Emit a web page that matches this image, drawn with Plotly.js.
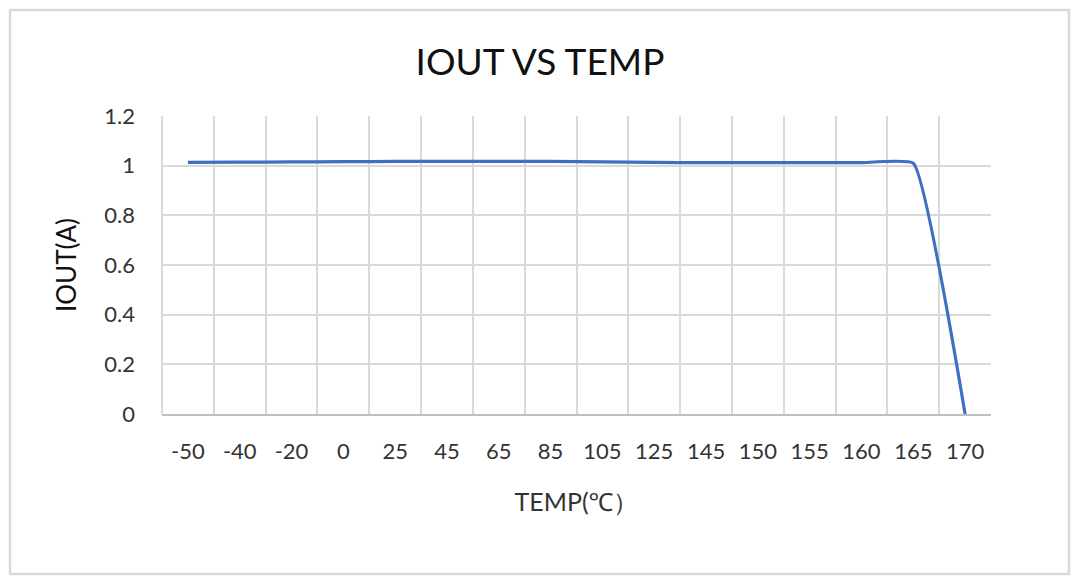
<!DOCTYPE html>
<html>
<head>
<meta charset="utf-8">
<script src="https://cdn.plot.ly/plotly-3.0.1.min.js"></script>
<style>
html,body{margin:0;padding:0;background:#fff;}
#chart{width:1080px;height:585px;}
</style>
</head>
<body>
<div id="chart"></div>
<script>
const tempLabels = ["-50","-40","-20","0","25","45","65","85","105","125","145","150","155","160","165","170"];
const ioutValues = [1.013,1.014,1.015,1.016,1.017,1.017,1.017,1.017,1.015,1.013,1.012,1.012,1.012,1.012,1.010,0];
const yTicks = [0,0.2,0.4,0.6,0.8,1,1.2];

const W = 1080, H = 585;
const m = {l:162, r:89, t:116, b:171};
const pw = W - m.l - m.r, ph = H - m.t - m.b;
function px(x){ return (x - m.l)/pw; }
function py(y){ return (H - y - m.b)/ph; }

const font = "Lato, 'Open Sans', 'Noto Sans', sans-serif";

const trace = {
  x: tempLabels,
  y: ioutValues,
  type: 'scatter',
  mode: 'lines',
  line: {color:'#3f6fbf', width:3.2, shape:'spline', smoothing:0.35},
  hoverinfo:'skip'
};

const layout = {
  width: W, height: H,
  margin: m,
  paper_bgcolor:'#ffffff',
  plot_bgcolor:'#ffffff',
  showlegend:false,
  font:{family:font, color:'#333333', size:22},
  title:{text:'IOUT VS TEMP', x:0.5, xanchor:'center', y:1-62/H, yanchor:'middle',
         font:{family:font, size:37, color:'#111111'}},
  xaxis:{
    type:'category',
    range:[-0.5, tempLabels.length-0.5],
    tickson:'boundaries',
    showgrid:true, gridcolor:'#d9d9d9', gridwidth:2,
    showline:true, linecolor:'#bfbfbf', linewidth:2,
    ticks:'', ticklabelstandoff:17,
    tickfont:{family:font, size:22, color:'#333333'},
    zeroline:false,
    fixedrange:true,
    title:{text:'TEMP(℃）', standoff:30, font:{family:font, size:25, color:'#333333'}}
  },
  yaxis:{
    range:[0,1.2],
    tickvals:yTicks,
    ticktext:yTicks.map(v=>String(v)),
    showgrid:true, gridcolor:'#d9d9d9', gridwidth:2,
    zeroline:false,
    showline:false,
    ticks:'', ticklabelstandoff:26,
    tickfont:{family:font, size:22, color:'#333333'},
    fixedrange:true,
    title:{text:'IOUT(A)', standoff:20, font:{family:font, size:26, color:'#111111'}}
  },
  shapes:[
    {type:'line', xref:'paper', yref:'paper', x0:0, x1:0, y0:0, y1:1, line:{color:'#d9d9d9', width:2}, layer:'below'},
    {type:'rect', xref:'paper', yref:'paper', x0:px(10), x1:px(1069), y0:py(574), y1:py(10),
     line:{color:'#d9d9d9', width:2.5}, fillcolor:'rgba(0,0,0,0)'}
  ]
};

Plotly.newPlot('chart', [trace], layout, {displayModeBar:false, staticPlot:true});
</script>
</body>
</html>
